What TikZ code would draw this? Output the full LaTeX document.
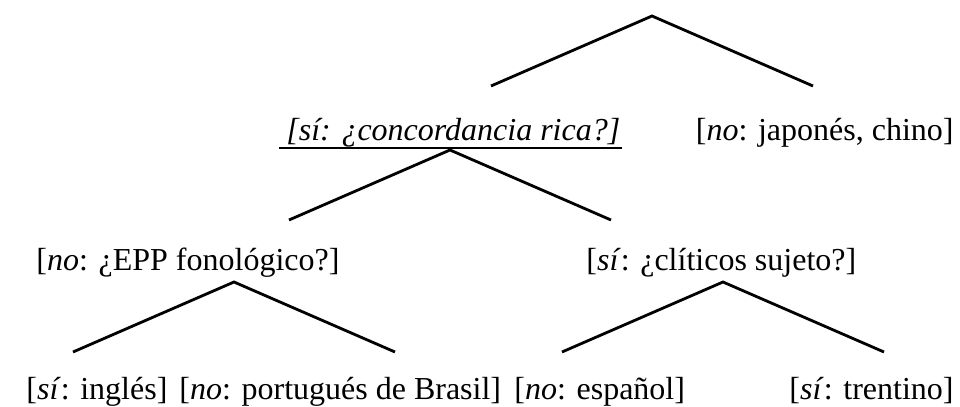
\documentclass[tikz,border=0pt]{standalone}
\usepackage{fontspec}
\setmainfont{Liberation Serif}
\usetikzlibrary{calc}

\begin{document}
\begin{tikzpicture}[x=0.5pt, y=-0.5pt, line width=1.4pt,
  every node/.style={inner sep=0pt, font=\fontsize{16}{19}\selectfont}]
  \useasboundingbox (0,0) rectangle (960,407);
  % branching points
  \coordinate (top) at (652,16);
  \coordinate (conc) at (450,150);
  \coordinate (epp) at (234,282);
  \coordinate (clit) at (723,282);
  \foreach \a in {top, conc, epp, clit} {
    \coordinate (\a-l) at ($(\a)+(-161,70)$);
    \coordinate (\a-r) at ($(\a)+(161,70)$);
    \draw (\a-l) -- (\a) -- (\a-r);
  }
  % first split
  \node[anchor=base west] (rica) at (285,140) {\textit{[sí: ¿concordancia rica?]}};
  \draw[line width=0.8pt] ([shift={(-6,8)}]rica.base west) -- ([shift={(0,8)}]rica.base east);
  \node[anchor=base east] (chino) at (955,140) {[\textit{no}: japonés, chino]};
  % second split
  \node[anchor=base west] (fono) at (35,270) {[\textit{no}: ¿EPP fonológico?]};
  \node[anchor=base west] (sujeto) at (585,270) {[\textit{sí}: ¿clíticos sujeto?]};
  % leaves
  \node[anchor=base west] (ingles) at (25,399) {[\textit{sí}: inglés]};
  \node[anchor=base west] (brasil) at (178,399) {[\textit{no}: portugués de Brasil]};
  \node[anchor=base west] (espanol) at (513,399) {[\textit{no}: español]};
  \node[anchor=base east] (trentino) at (955,399) {[\textit{sí}: trentino]};
\end{tikzpicture}
\end{document}
